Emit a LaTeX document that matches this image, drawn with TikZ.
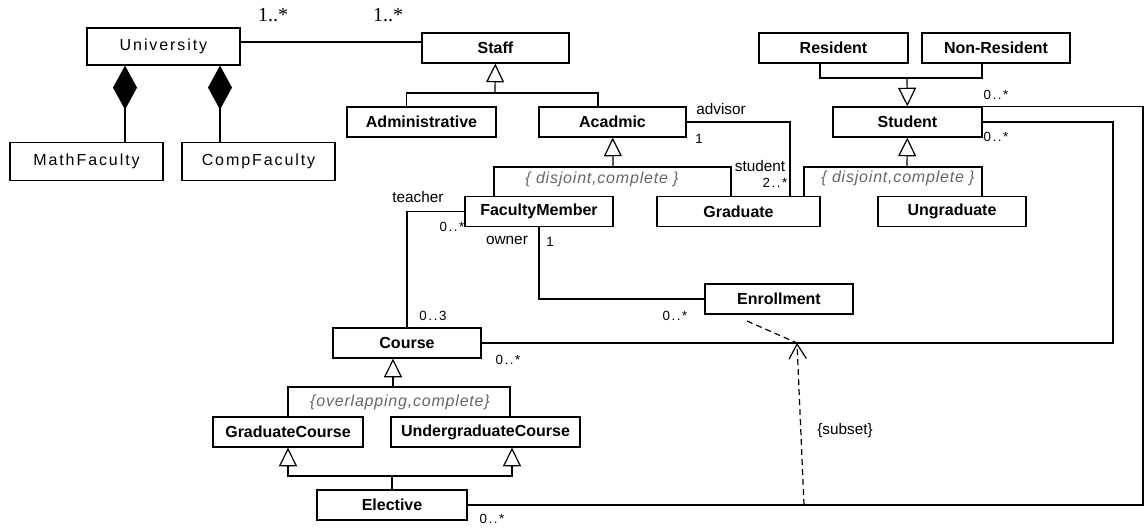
\documentclass[tikz,border=0pt]{standalone}
\usepackage{fontspec}
\setmainfont{Liberation Sans}
\newfontfamily\topfont{Liberation Serif}
\usetikzlibrary{positioning,arrows.meta,calc}

\begin{document}
\begin{tikzpicture}[x=0.75pt,y=-0.75pt,line width=0.9pt]
\tikzset{cls/.style={draw,minimum width=111pt,minimum height=22.5pt,inner sep=0pt,font=\bfseries\fontsize{12}{14}\selectfont},
  pcls/.style={cls,minimum height=28.5pt,font=\fontsize{12}{14}\selectfont\addfontfeature{LetterSpace=12}},
  gen/.style={-{Triangle[open,length=14pt,width=13.5pt]}},
  comp/.style={-{Diamond[length=33pt,width=18pt]}},
  sub/.style={dash pattern=on 4.5pt off 3pt,-{Straight Barb[length=11pt,width=13pt]}},
  role/.style={font=\fontsize{11.5}{13}\selectfont,inner sep=1pt},
  mult/.style={font=\fontsize{10}{12}\selectfont\addfontfeature{LetterSpace=12},inner sep=1pt},
  cons/.style={font=\itshape\fontsize{12}{14}\selectfont\addfontfeature{LetterSpace=5},text=black!60,inner sep=1pt}}
\useasboundingbox (0,0) rectangle (1145,528);
\node[pcls,minimum width=114.75pt,minimum height=27.75pt] (University) at (163.5,46.5) {University};
\node[pcls,minimum width=114.75pt] (MathFaculty) at (86.5,161.5) {MathFaculty};
\node[pcls,minimum width=114.75pt] (CompFaculty) at (258.5,161.5) {CompFaculty};
\node[cls,minimum width=110.25pt] (Staff) at (495.5,48) {Staff};
\node[cls,minimum width=111.75pt] (Administrative) at (421.5,122) {Administrative};
\node[cls,minimum width=110.25pt] (Acadmic) at (612.5,122) {Acadmic};
\node[cls] (FacultyMember) at (539,211.5) {FacultyMember};
\node[cls,minimum width=122.25pt] (Graduate) at (738.5,211.5) {Graduate};
\node[cls,minimum width=111.75pt] (Resident) at (833.5,48) {Resident};
\node[cls] (NonResident) at (996,48) {Non-Resident};
\node[cls,minimum width=111.75pt] (Student) at (907.5,122) {Student};
\node[cls] (Ungraduate) at (952,211.5) {Ungraduate};
\node[cls] (Enrollment) at (779,299) {Enrollment};
\node[cls] (Course) at (407,343) {Course};
\node[cls,minimum width=112.5pt] (GraduateCourse) at (288,432) {GraduateCourse};
\node[cls,minimum width=141.75pt] (UndergraduateCourse) at (485.5,432) {UndergraduateCourse};
\node[cls,minimum width=112.5pt] (Elective) at (392,505) {Elective};

\coordinate (sj) at (495,93);
\coordinate (aj) at (613,167);
\coordinate (stj) at (907,167);
\coordinate (rj) at (907,78);
\coordinate (cj) at (393,387);
\coordinate (ej) at (392,476);
\coordinate (cs) at (1113,343);
\coordinate (es) at (1143,505);
\coordinate (sa) at (797,343);
\coordinate (sb) at (804,505);
\coordinate (ea) at (747,321);

\draw (University.east |- 0,42) -- (Staff.west |- 0,42);
\draw[comp] ($(MathFaculty.north)+(38.5,0)$) coordinate (m1) -- (m1 |- University.south);
\draw[comp] ($(CompFaculty.north)+(-38.5,0)$) coordinate (c1) -- (c1 |- University.south);

\draw[gen] (sj) -- (Staff);
\draw ($(Administrative.north)+(-15,0)$) |- (sj) -| ($(Acadmic.north)+(-14.5,0)$);
\draw[gen] (aj) -- (Acadmic);
\draw ($(FacultyMember.north)+(-45,0)$) |- (aj) -| ($(Graduate.north)+(-7.5,0)$);
\draw[gen] (stj) -- (Student);
\draw ($(Graduate.north)+(65.5,0)$) |- (stj) -| ($(Ungraduate.north)+(30,0)$);
\draw ($(Resident.south)+(-13.5,0)$) |- (rj) -| ($(NonResident.south)+(-14,0)$);
\draw[gen] (rj) -- (Student);
\draw[gen] (cj) -- (cj |- Course.south);
\draw (GraduateCourse.north) |- (cj) -| ($(UndergraduateCourse.north)+(24.5,0)$);
\draw (Elective.north) -- (ej);
\draw[gen] (ej) -| (GraduateCourse.south);
\draw[gen] (ej) -| ($(UndergraduateCourse.south)+(26.5,0)$);

\draw (Acadmic.east) -| ($(Graduate.north)+(51.5,0)$);
\draw (FacultyMember.west) -| (Course.north);
\draw (FacultyMember.south) |- (Enrollment.west);
\draw (Course.east) -- (cs) |- (Student.east);
\draw (Elective.east) -- (es) |- (Student.north east);
\draw[sub] (sb) -- (sa);
\draw[dash pattern=on 4.5pt off 3pt] (ea) -- (sa);

\node[font=\topfont\fontsize{15}{17}\selectfont] (m1a) at (273,15) {1..*};
\node[font=\topfont\fontsize{15}{17}\selectfont] (m1b) at (388,15) {1..*};
\node[cons] (dc1) at (602,179) {\{ disjoint,complete \}};
\node[cons] (dc2) at (898,178) {\{ disjoint,complete \}};
\node[cons] (oc) at (400,402) {\{overlapping,complete\}};
\node[role] (advisor) at (721,109) {advisor};
\node[mult] (m2) at (699,139) {1};
\node[role] (student) at (760,166) {student};
\node[mult] (m3) at (775,183) {2..*};
\node[role] (teacher) at (418,197) {teacher};
\node[mult] (m4) at (452,227) {0..*};
\node[role] (owner) at (507,240) {owner};
\node[mult] (m5) at (550,242) {1};
\node[mult] (m6) at (433,316) {0..3};
\node[mult] (m7) at (675,316) {0..*};
\node[mult] (m8) at (508,360) {0..*};
\node[mult] (m9) at (996,95) {0..*};
\node[mult] (m10) at (996,137) {0..*};
\node[mult] (m11) at (492,519) {0..*};
\node[role] (subset) at (845,431) {\{subset\}};
\end{tikzpicture}
\end{document}
